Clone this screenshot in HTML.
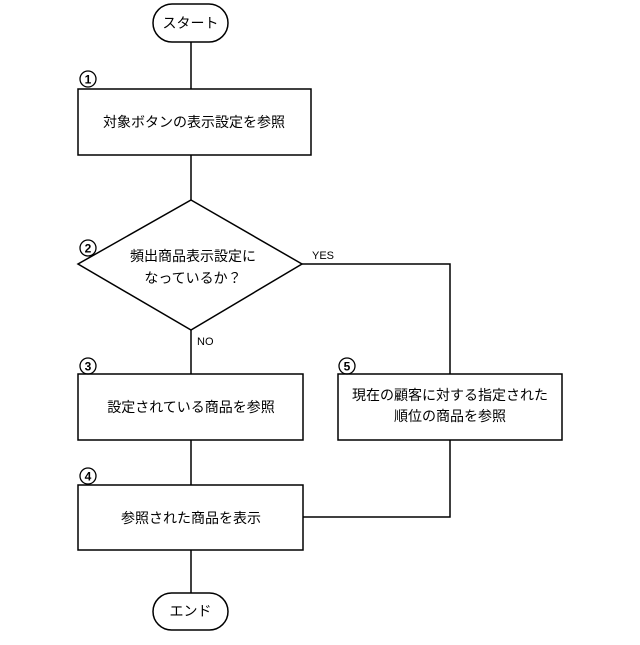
<!DOCTYPE html>
<html><head><meta charset="utf-8"><style>
html,body{margin:0;padding:0;background:#fff;}
svg text{font-family:"Liberation Sans","Noto Sans CJK JP",sans-serif;fill:#000;}
</style></head><body>
<svg width="640" height="640" viewBox="0 0 640 640" xmlns="http://www.w3.org/2000/svg">
<g fill="none" stroke="#000" stroke-width="1.5">
<rect x="153" y="4" width="75" height="38" rx="19"/>
<line x1="191" y1="42" x2="191" y2="89"/>
<rect x="78" y="89" width="233" height="66"/>
<line x1="191" y1="155" x2="191" y2="200"/>
<polygon points="191,200 302,264 191,330 78,264"/>
<line x1="191" y1="330" x2="191" y2="374"/>
<polyline points="302,264 450,264 450,374"/>
<rect x="78" y="374" width="225" height="66"/>
<rect x="338" y="374" width="224" height="66"/>
<line x1="191" y1="440" x2="191" y2="485"/>
<rect x="78" y="485" width="225" height="65"/>
<polyline points="450,440 450,517 303,517"/>
<line x1="191" y1="550" x2="191" y2="593"/>
<rect x="153" y="593" width="75" height="37" rx="18.5"/>
<circle cx="88" cy="79" r="8" stroke-width="1.3"/>
<circle cx="88" cy="248" r="8" stroke-width="1.3"/>
<circle cx="88" cy="366" r="8" stroke-width="1.3"/>
<circle cx="88" cy="476" r="8" stroke-width="1.3"/>
<circle cx="347" cy="366" r="8" stroke-width="1.3"/>
</g>
<g font-size="12" text-anchor="middle" font-weight="bold">
<text x="88" y="83.5">1</text>
<text x="88" y="252.5">2</text>
<text x="88" y="370.5">3</text>
<text x="88" y="480.5">4</text>
<text x="347" y="370.5">5</text>
</g>
<g font-size="14" text-anchor="middle">
<text x="190.5" y="28">スタート</text>
<text x="194" y="127">対象ボタンの表示設定を参照</text>
<text x="193" y="261">頻出商品表示設定に</text>
<text x="193" y="283">なっているか？</text>
<text x="191" y="412">設定されている商品を参照</text>
<text x="450" y="400">現在の顧客に対する指定された</text>
<text x="450" y="421">順位の商品を参照</text>
<text x="191" y="523">参照された商品を表示</text>
<text x="190.5" y="616">エンド</text>
</g>
<g font-size="11">
<text x="312" y="259">YES</text>
<text x="197" y="345">NO</text>
</g>
</svg>
</body></html>
